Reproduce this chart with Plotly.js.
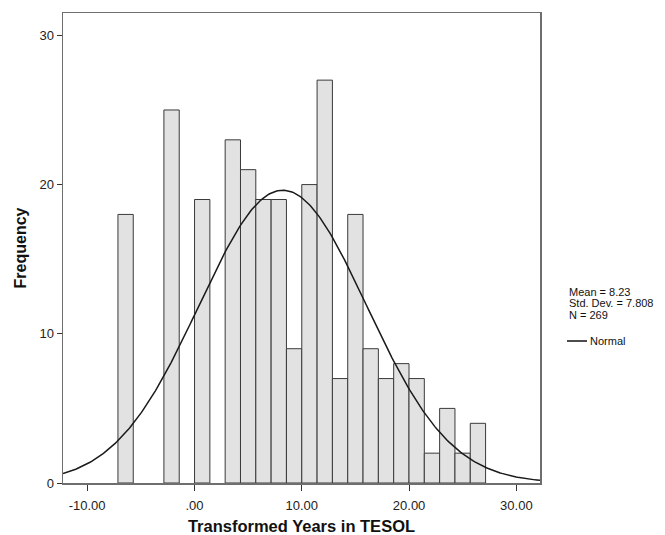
<!DOCTYPE html>
<html>
<head>
<meta charset="utf-8">
<script src="https://cdn.plot.ly/plotly-3.0.1.min.js"></script>
<style>html,body{margin:0;padding:0;background:#fff;}#chart{width:665px;height:535px;}</style>
</head>
<body>
<div id="chart"></div>
<script>
// Histogram data
var binStart = -7.13;
var binWidth = 1.4275;
var counts = [18, 0, 0, 25, 0, 19, 0, 23, 21, 19, 19, 9, 20, 27, 7, 18, 9, 7, 8, 7, 2, 5, 2, 4];
var statMean = 8.23;
var statSD = 7.808;
var statN = 269;
var xTickVals = [-10, 0, 10, 20, 30];
var xTickText = ['-10.00', '.00', '10.00', '20.00', '30.00'];
var yTickVals = [0, 10, 20, 30];
var yTickText = ['0', '10', '20', '30'];
var xRange = [-12.25, 32.2];
var yRange = [0, 31.5];

var centers = counts.map(function (c, i) { return binStart + (i + 0.5) * binWidth; });
var outline = counts.map(function (c) { return c > 0 ? 1 : 0; });

// Normal curve defined by the stated mean / SD, scaled to the histogram
var nx = [], ny = [];
var steps = 300;
for (var i = 0; i <= steps; i++) {
  var x = xRange[0] + (xRange[1] - xRange[0]) * i / steps;
  var z = (x - statMean) / statSD;
  nx.push(x);
  ny.push(statN * binWidth * Math.exp(-0.5 * z * z) / (statSD * Math.sqrt(2 * Math.PI)));
}

var bars = {
  type: 'bar',
  x: centers,
  y: counts,
  width: binWidth,
  marker: { color: '#e2e2e2', line: { color: '#3a3a3a', width: outline } },
  showlegend: false,
  hoverinfo: 'x+y'
};
var normal = {
  type: 'scatter',
  mode: 'lines',
  x: nx,
  y: ny,
  line: { color: '#1a1a1a', width: 1.5 },
  name: 'Normal',
  showlegend: false
};

var font = 'Liberation Sans, Arial, sans-serif';
// paper y from pixel row (plot spans rows 13..483)
function py(p) { return (483 - p) / 470; }
function pxp(p) { return 1 + (p - 540) / 477; }

var layout = {
  width: 665,
  height: 535,
  margin: { l: 63, r: 125, t: 13, b: 52 },
  paper_bgcolor: '#ffffff',
  plot_bgcolor: '#ffffff',
  font: { family: font, size: 12, color: '#222' },
  bargap: 0,
  xaxis: {
    range: xRange,
    tickvals: xTickVals,
    ticktext: xTickText,
    ticks: 'outside',
    ticklen: 6,
    tickcolor: '#333',
    ticklabelstandoff: 4,
    tickfont: { size: 13, color: '#222' },
    showgrid: false,
    zeroline: false,
    showline: true,
    mirror: true,
    linecolor: '#6e6e6e',
    linewidth: 1.5,
    title: { text: '<b>Transformed Years in TESOL</b>', font: { size: 16.5, color: '#111' }, standoff: 10 }
  },
  yaxis: {
    range: yRange,
    tickvals: yTickVals,
    ticktext: yTickText,
    ticks: 'outside',
    ticklen: 5,
    tickcolor: '#333',
    tickfont: { size: 13, color: '#222' },
    showgrid: false,
    zeroline: false,
    showline: true,
    mirror: true,
    linecolor: '#6e6e6e',
    linewidth: 1.5,
    title: { text: '<b>Frequency</b>', font: { size: 16, color: '#111' }, standoff: 9 }
  },
  annotations: [
    { xref: 'paper', yref: 'paper', x: pxp(567), y: py(292), xanchor: 'left', yanchor: 'middle',
      showarrow: false, font: { size: 11, color: '#111' }, text: 'Mean = ' + statMean.toFixed(2) },
    { xref: 'paper', yref: 'paper', x: pxp(567), y: py(303.5), xanchor: 'left', yanchor: 'middle',
      showarrow: false, font: { size: 11, color: '#111' }, text: 'Std. Dev. = ' + statSD.toFixed(3) },
    { xref: 'paper', yref: 'paper', x: pxp(567), y: py(315), xanchor: 'left', yanchor: 'middle',
      showarrow: false, font: { size: 11, color: '#111' }, text: 'N = ' + statN },
    { xref: 'paper', yref: 'paper', x: pxp(588), y: py(341.5), xanchor: 'left', yanchor: 'middle',
      showarrow: false, font: { size: 11, color: '#111' }, text: 'Normal' }
  ],
  shapes: [
    { type: 'line', xref: 'paper', yref: 'paper', x0: pxp(567), x1: pxp(587), y0: py(341), y1: py(341),
      line: { color: '#111', width: 1.5 } }
  ]
};

Plotly.newPlot('chart', [bars, normal], layout, { displayModeBar: false, staticPlot: true });
</script>
</body>
</html>
